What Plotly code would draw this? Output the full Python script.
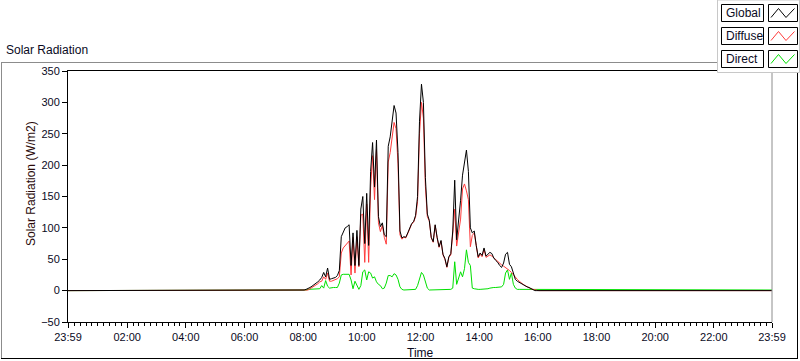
import plotly.graph_objects as go

# ---- data (time in minutes since midnight; -1 = 23:59 previous day) ----
grid_minutes = list(range(470, 971, 4))
times = [-1] + grid_minutes + [1439]

global_vals = [0, 0, 0, 1, 2, 3, 5, 7, 9, 11,
               14, 17, 21, 29, 22, 36, 18, 19, 20, 21,
               24, 32, 86, 94, 100, 102, 105, 40, 92, 40,
               96, 40, 130, 150, 75, 155, 72, 190, 236, 165,
               240, 118, 102, 108, 89, 86, 230, 245, 269, 295,
               283, 220, 95, 84, 86, 85, 92, 100, 107, 110,
               120, 150, 270, 329, 300, 180, 122, 112, 85, 78,
               105, 85, 70, 80, 58, 51, 38, 54, 59, 95,
               176, 81, 110, 144, 184, 205, 224, 190, 100, 92,
               95, 72, 54, 60, 56, 68, 55, 58, 61, 59,
               52, 48, 45, 40, 37, 44, 58, 61, 42, 38,
               26, 18, 15, 13, 11, 9, 8, 6, 5, 3,
               1, 0, 0, 0, 0, 0]

direct_vals = [0, 0, 1, 1, 1, 2, 2, 2, 3, 3,
               3, 3, 8, 4, 16, 7, 4, 5, 5, 5,
               5, 12, 25, 26, 26, 26, 26, 17, 3, 15,
               8, 2, 8, 30, 33, 17, 30, 28, 20, 22,
               14, 10, 8, 3, 4, 12, 24, 24, 22, 27,
               25, 18, 6, 2, 1, 1, 1, 1, 1, 1,
               2, 8, 20, 29, 25, 14, 4, 1, 1, 1,
               1, 1, 1, 1, 1, 1, 1, 1, 2, 4,
               46, 10, 20, 30, 22, 35, 65, 45, 40, 4,
               3, 2, 2, 2, 2, 2, 2, 3, 4, 5,
               5, 5, 5, 5, 6, 10, 28, 33, 18, 28,
               10, 4, 2, 2, 2, 1, 1, 1, 1, 1,
               1, 1, 1, 1, 1, 1]

diffuse_vals = [0, 0, 0, 0, 1, 1, 3, 5, 6, 8,
                11, 14, 15, 22, 18, 28, 15, 15, 16, 17,
                19, 22, 60, 68, 72, 76, 79, 25, 85, 28,
                86, 38, 120, 122, 45, 138, 45, 165, 215, 145,
                225, 108, 94, 104, 85, 74, 205, 220, 247, 268,
                258, 202, 89, 82, 85, 84, 91, 99, 106, 109,
                118, 142, 250, 300, 275, 166, 118, 111, 84, 77,
                104, 84, 69, 79, 57, 50, 37, 53, 57, 91,
                130, 71, 90, 114, 162, 170, 159, 145, 70, 88,
                92, 70, 52, 58, 54, 66, 53, 55, 57, 55,
                52, 49, 46, 43, 41, 39, 37, 35, 32, 29,
                25, 21, 18, 15, 12, 10, 8, 6, 4, 3,
                2, 1, 0, 0, 0, 0]

global_series = [0] + global_vals + [0]
diffuse_series = [0] + diffuse_vals + [0]
direct_series = [0] + direct_vals + [1]

tick_vals = [-1, 120, 240, 360, 480, 600, 720, 840, 960, 1080, 1200, 1320, 1439]
tick_text = ["23:59", "02:00", "04:00", "06:00", "08:00", "10:00", "12:00",
             "14:00", "16:00", "18:00", "20:00", "22:00", "23:59"]
y_ticks = [-50, 0, 50, 100, 150, 200, 250, 300, 350]

series_names = ["Global", "Diffuse", "Direct"]
series_colors = ["#000000", "#ff3b3b", "#00e000"]

# ---- layout geometry (pixels) ----
W, H = 800, 361
PL, PR, PT, PB = 68, 772, 71, 322
FONT = "Liberation Sans"
TXT = "#0a0a1e"


def px(x):
    return (x - PL) / (PR - PL)


def py(y):
    return (PB - y) / (PB - PT)


fig = go.Figure()
fig.add_trace(go.Scatter(x=times, y=direct_series, mode="lines", name="Direct",
                         line=dict(color=series_colors[2], width=1), showlegend=False))
fig.add_trace(go.Scatter(x=times, y=diffuse_series, mode="lines", name="Diffuse",
                         line=dict(color=series_colors[1], width=1), showlegend=False))
fig.add_trace(go.Scatter(x=times, y=global_series, mode="lines", name="Global",
                         line=dict(color=series_colors[0], width=1), showlegend=False))

shapes = []
# outer panel frame
shapes.append(dict(type="line", xref="paper", yref="paper", x0=px(1), x1=px(717), y0=py(62.5), y1=py(62.5),
                   line=dict(color="#8c8c8c", width=1)))
shapes.append(dict(type="line", xref="paper", yref="paper", x0=px(1.5), x1=px(1.5), y0=py(62.5), y1=py(358.5),
                   line=dict(color="#8c8c8c", width=1)))
shapes.append(dict(type="line", xref="paper", yref="paper", x0=px(1), x1=px(798), y0=py(358.5), y1=py(358.5),
                   line=dict(color="#000000", width=1)))
shapes.append(dict(type="line", xref="paper", yref="paper", x0=px(797.5), x1=px(797.5), y0=py(72), y1=py(358.5),
                   line=dict(color="#000000", width=1)))
# plot area right edge (gray)
shapes.append(dict(type="line", xref="paper", yref="paper", x0=1, x1=1, y0=0, y1=1,
                   line=dict(color="#8c8c8c", width=1)))

# legend panel
shapes.append(dict(type="rect", xref="paper", yref="paper", x0=px(717.5), x1=px(799.5), y0=py(0), y1=py(72.5),
                   fillcolor="#ffffff", line=dict(color="#c8c8c8", width=1), layer="above"))
annotations = []
row_tops = [4.5, 27.5, 50.5]
for name, color, top in zip(series_names, series_colors, row_tops):
    bot = top + 17
    shapes.append(dict(type="rect", xref="paper", yref="paper", x0=px(721.5), x1=px(763.5),
                       y0=py(bot), y1=py(top), fillcolor="#ffffff",
                       line=dict(color="#000000", width=1), layer="above"))
    shapes.append(dict(type="rect", xref="paper", yref="paper", x0=px(768.5), x1=px(797.5),
                       y0=py(bot), y1=py(top), fillcolor="#ffffff",
                       line=dict(color="#000000", width=1), layer="above"))
    pts = [(771, bot - 4), (778.5, top + 4), (786, bot - 4), (794.5, top + 4)]
    path = "M " + " L ".join(f"{px(a):.5f},{py(b):.5f}" for a, b in pts)
    shapes.append(dict(type="path", xref="paper", yref="paper", path=path,
                       line=dict(color=color, width=1), layer="above"))
    annotations.append(dict(text=name, xref="paper", yref="paper", x=px(723.5), y=py(top + 8.5),
                            xanchor="left", yanchor="middle", showarrow=False,
                            font=dict(family=FONT, size=12, color=TXT)))

annotations.append(dict(text="Solar Radiation", xref="paper", yref="paper", x=px(4), y=py(50),
                        xanchor="left", yanchor="middle", showarrow=False,
                        font=dict(family=FONT, size=12, color=TXT)))
annotations.append(dict(text="Solar Radiation (W/m2)", xref="paper", yref="paper", x=px(31), y=py(184),
                        xanchor="center", yanchor="middle", textangle=-90, showarrow=False,
                        font=dict(family=FONT, size=12, color="#2a0a0a")))
annotations.append(dict(text="Time", xref="paper", yref="paper", x=px(420), y=py(353),
                        xanchor="center", yanchor="middle", showarrow=False,
                        font=dict(family=FONT, size=12, color=TXT)))

fig.update_layout(
    width=W, height=H,
    margin=dict(l=PL, r=W - PR, t=PT, b=H - PB, pad=0),
    paper_bgcolor="#ffffff", plot_bgcolor="#ffffff",
    shapes=shapes, annotations=annotations,
    showlegend=False,
    xaxis=dict(range=[-1, 1439], tickmode="array", tickvals=tick_vals, ticktext=tick_text,
               ticks="outside", ticklen=5, tickcolor="#000000", tickwidth=1,
               minor=dict(ticks="outside", ticklen=3, tick0=0, dtick=12, tickcolor="#000000", showgrid=False),
               showgrid=False, zeroline=False, showline=True, linecolor="#000000", linewidth=1,
               mirror=True, tickfont=dict(family=FONT, size=11, color=TXT), fixedrange=True),
    yaxis=dict(range=[-50, 350], tickmode="array", tickvals=y_ticks,
               ticks="outside", ticklen=5, tickcolor="#000000", tickwidth=1,
               showgrid=False, zeroline=False, showline=True, linecolor="#000000", linewidth=1,
               tickfont=dict(family=FONT, size=11, color=TXT), fixedrange=True),
)

fig.write_html("out.html", config={"displayModeBar": False},
               post_script="document.body.style.margin='0px';document.body.style.overflow='hidden';")
